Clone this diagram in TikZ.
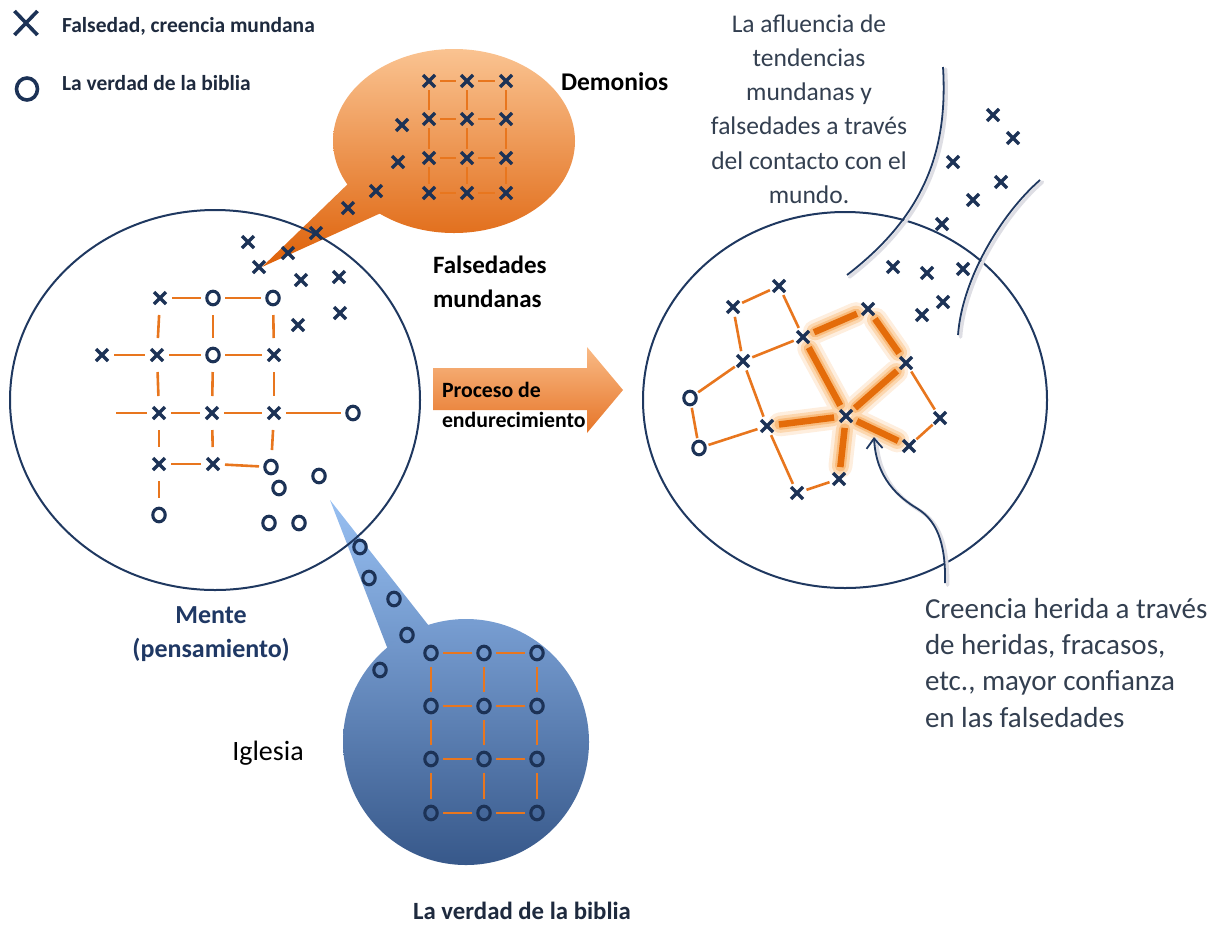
\documentclass[tikz,border=0pt]{standalone}
\usepackage{fontspec}
\setmainfont{Carlito}
\usetikzlibrary{arrows.meta,shapes.geometric}
\pgfdeclarelayer{back}
\pgfdeclarelayer{glow}
\pgfsetlayers{back,glow,main}
\definecolor{navy}{RGB}{31,56,96}
\definecolor{mkc}{RGB}{28,50,86}
\definecolor{orl}{RGB}{232,118,30}
\definecolor{ort}{RGB}{228,108,10}
\definecolor{glowA}{RGB}{254,238,222}
\definecolor{glowB}{RGB}{252,215,175}
\definecolor{glowC}{RGB}{249,188,125}
\definecolor{slate}{RGB}{51,63,80}
\definecolor{legtext}{RGB}{30,42,62}
\definecolor{mentec}{RGB}{31,56,100}
\definecolor{obTop}{RGB}{250,195,145}
\definecolor{obBot}{RGB}{226,112,30}
\definecolor{otA}{RGB}{233,136,63}
\definecolor{otB}{RGB}{222,97,9}
\definecolor{bbTop}{RGB}{120,158,210}
\definecolor{bbBot}{RGB}{55,88,138}
\definecolor{btA}{RGB}{152,192,242}
\definecolor{btB}{RGB}{108,146,198}
\definecolor{arTop}{RGB}{249,186,134}
\definecolor{arBot}{RGB}{230,117,40}
\definecolor{shadowc}{RGB}{222,222,228}
\newcommand\xsym[1]{\draw[xst] ([shift={(-6pt,-6pt)}]#1.center) -- ([shift={(6pt,6pt)}]#1.center) ([shift={(-6pt,6pt)}]#1.center) -- ([shift={(6pt,-6pt)}]#1.center);}
\newcommand\osym[1]{\draw[ost] (#1.center) ellipse [x radius=6.2pt, y radius=6.8pt];}
\tikzset{
 mk/.style={circle, minimum size=22pt, inner sep=0pt, outer sep=0pt},
 xst/.style={draw=mkc, line width=3.3pt},
 ost/.style={draw=mkc, line width=3.1pt},
 ol/.style={draw=orl, line width=2.6pt},
 thk/.style={draw=ort, line width=6.5pt},
 ring/.style={draw=navy, line width=2pt, ellipse, inner sep=0pt},
 crv/.style={draw=navy, line width=1.8pt},
 crvsh/.style={draw=shadowc, line width=3.5pt, line cap=round},
 lab/.style={inner sep=0pt, outer sep=0pt},
}
\begin{document}
\begin{tikzpicture}[x=1pt,y=-1pt]
\useasboundingbox (0,0) rectangle (1222,930);

% ---------- bubbles and arrow (background) ----------
\begin{pgfonlayer}{back}
\shade[top color=otA, bottom color=otB] (262,267) -- (352,180) -- (392,208) -- cycle;
\shade[top color=obTop, bottom color=obBot] (454,141) ellipse [x radius=121pt, y radius=92pt];
\shade[top color=btA, bottom color=btB] (330,500) -- (440,640) -- (392,660) -- cycle;
\shade[top color=bbTop, bottom color=bbBot] (466,742) circle [radius=123pt];
\shade[top color=arTop, bottom color=arBot] (433,368) -- (587,368) -- (587,347) -- (623,390) -- (587,433) -- (587,410) -- (433,410) -- cycle;
\end{pgfonlayer}

% ---------- big circles ----------
\node[ring, minimum width=410pt, minimum height=380pt] (mind) at (215,400) {};
\node[ring, minimum width=404pt, minimum height=376pt] (world) at (845,400) {};

% ---------- world curves ----------
\draw[crvsh, transform canvas={shift={(2.5pt,-2pt)}}] (943,67) .. controls (948,150) and (925,215) .. (847,275);
\draw[crv] (943,67) .. controls (948,150) and (925,215) .. (847,275);
\draw[crvsh, transform canvas={shift={(2.5pt,-2pt)}}] (1040,180) .. controls (1000,215) and (962,280) .. (958,335);
\draw[crv] (1040,180) .. controls (1000,215) and (962,280) .. (958,335);

% ---------- legend ----------
\node[mk] (legx) at (26,23) {};
\node[mk] (lego) at (27,89) {};
\draw[xst, line width=3.6pt] ([shift={(-11.5pt,-12pt)}]legx.center) -- ([shift={(11.5pt,12pt)}]legx.center) ([shift={(-11.5pt,12pt)}]legx.center) -- ([shift={(11.5pt,-12pt)}]legx.center);
\draw[ost, line width=3.6pt] (lego.center) ellipse [x radius=10.5pt, y radius=11pt];

% ---------- marker nodes ----------
\foreach \n/\x/\y in {L11/160/298, L12/213/298, L13/273/298,
  L20/102/355, L21/157/355, L22/213/355, L23/274/355,
  L31/159/413, L32/212/413, L33/274/413, L34/353/413,
  L41/159/464, L42/213/464, L43/271/467, L51/159/515,
  LX1/248/242, LX2/259/267, LX3/288/253, LX4/316/233, LX5/348/208, LX6/376/191,
  LX7/398/162, LX8/402/125, LX9/301/280, LX10/339/277, LX11/298/325, LX12/340/313,
  LO1/279/488, LO2/319/476, LO3/269/523, LO4/299/523,
  BO1/360/547, BO2/369/578, BO3/394/599, BO4/407/635, BO5/380/670,
  RA/733/307, RB/779/286, RC/803/337, RD/743/361, RE/690/398, RF/699/448,
  RG/767/426, RH/846/416, RI/868/309, RJ/906/363, RK/940/418, RL/909/446,
  RM/839/479, RN/797/493,
  TX1/993/115, TX2/1013/138, TX3/953/162, TX4/1001/182, TX5/973/200, TX6/942/224,
  TX7/893/267, TX8/927/273, TX9/963/269, TX10/943/302, TX11/922/315}
  \node[mk] (\n) at (\x,\y) {};
\coordinate (L3s) at (115,413);
\foreach \r/\y in {1/81,2/119,3/158,4/193}
  \foreach \c/\x in {1/429,2/467,3/506}
    \node[mk] (OB\r\c) at (\x,\y) {};
\foreach \r/\y in {1/653,2/706,3/759,4/813}
  \foreach \c/\x in {1/431,2/484,3/537}
    \node[mk] (BB\r\c) at (\x,\y) {};

% ---------- glow (hardened belief) ----------
\begin{pgfonlayer}{glow}
\foreach \a/\b in {RC/RI,RI/RJ,RC/RH,RJ/RH,RG/RH,RH/RM,RH/RL}
  \draw[glowA, line width=24pt, line cap=round, shorten <=2pt, shorten >=2pt] (\a) -- (\b);
\foreach \a/\b in {RC/RI,RI/RJ,RC/RH,RJ/RH,RG/RH,RH/RM,RH/RL}
  \draw[glowB, line width=17pt, line cap=round, shorten <=2pt, shorten >=2pt] (\a) -- (\b);
\foreach \a/\b in {RC/RI,RI/RJ,RC/RH,RJ/RH,RG/RH,RH/RM,RH/RL}
  \draw[glowC, line width=11pt, line cap=round, shorten <=2pt, shorten >=2pt] (\a) -- (\b);
\end{pgfonlayer}

% ---------- orange connectors ----------
\foreach \a/\b in {L11/L12, L12/L13, L20/L21, L21/L22, L22/L23, L3s/L31, L31/L32, L32/L33, L33/L34, L41/L42, L42/L43}
  \draw[ol, shorten <=1pt, shorten >=1pt] (\a) -- (\b);
\foreach \a/\b in {L11/L21, L21/L31, L31/L41, L41/L51, L12/L22, L22/L32, L32/L42, L13/L23, L23/L33, L33/L43}
  \draw[ol, shorten <=6pt, shorten >=6pt] (\a) -- (\b);
\foreach \r in {1,2,3,4} {
  \draw[ol] (OB\r1) -- (OB\r2);
  \draw[ol] (OB\r2) -- (OB\r3);
  \draw[ol, shorten <=1pt, shorten >=1pt] (BB\r1) -- (BB\r2);
  \draw[ol, shorten <=1pt, shorten >=1pt] (BB\r2) -- (BB\r3);
}
\foreach \r/\s in {1/2,2/3,3/4}
  \foreach \c in {1,2,3} {
    \draw[ol, shorten <=-2pt, shorten >=-2pt] (OB\r\c) -- (OB\s\c);
    \draw[ol, shorten <=3pt, shorten >=3pt] (BB\r\c) -- (BB\s\c);
  }
\foreach \a/\b in {RA/RB, RA/RD, RB/RC, RD/RC, RD/RE, RE/RF, RF/RG, RD/RG, RG/RN, RN/RM, RJ/RK, RK/RL}
  \draw[ol, shorten <=-1pt, shorten >=-1pt] (\a) -- (\b);
\foreach \a/\b in {RC/RI,RI/RJ,RC/RH,RJ/RH,RG/RH,RH/RM,RH/RL}
  \draw[thk, shorten <=1pt, shorten >=1pt] (\a) -- (\b);

% ---------- marker symbols ----------
\foreach \n in {L11,L20,L21,L23,L31,L32,L33,L41,L42,
  LX1,LX2,LX3,LX4,LX5,LX6,LX7,LX8,LX9,LX10,LX11,LX12,
  OB11,OB12,OB13,OB21,OB22,OB23,OB31,OB32,OB33,OB41,OB42,OB43,
  RA,RB,RC,RD,RG,RH,RI,RJ,RK,RL,RM,RN,
  TX1,TX2,TX3,TX4,TX5,TX6,TX7,TX8,TX9,TX10,TX11}
  {\xsym{\n}}
\foreach \n in {L12,L13,L22,L34,L43,L51,LO1,LO2,LO3,LO4,BO1,BO2,BO3,BO4,BO5,
  BB11,BB12,BB13,BB21,BB22,BB23,BB31,BB32,BB33,BB41,BB42,BB43,RE,RF}
  {\osym{\n}}

% ---------- pointer arrow ----------
\coordinate (arrS) at (945,583);
\coordinate (arrT) at (874,437);
\draw[crvsh, transform canvas={shift={(2.5pt,-2pt)}}] (arrS) .. controls (946,540) and (935,520) .. (918,509) .. controls (898,497) and (876,478) .. (arrT);
\draw[crv, -{Straight Barb[length=10pt,width=16pt]}] (arrS) .. controls (946,540) and (935,520) .. (918,509) .. controls (898,497) and (876,478) .. (arrT);

% ---------- texts (base anchor = baseline of last line) ----------
\node[lab, anchor=base west, font=\fontsize{21.5}{25}\selectfont\bfseries, text=legtext] (tleg1) at (62,32) {Falsedad, creencia mundana};
\node[lab, anchor=base west, font=\fontsize{21.5}{25}\selectfont\bfseries, text=legtext] (tleg2) at (62,90) {La verdad de la biblia};
\node[lab, anchor=base west, font=\fontsize{25.5}{30}\selectfont\bfseries] (tdem) at (561,90) {Demonios};
\node[lab, anchor=base west, align=left, font=\fontsize{25}{34}\selectfont\bfseries] (tfal) at (433,307) {Falsedades\\mundanas};
\node[lab, anchor=base west, align=left, font=\fontsize{21.8}{30}\selectfont\bfseries] (tproc) at (442,427) {Proceso de\\endurecimiento};
\node[lab, anchor=base, align=center, font=\fontsize{26}{34}\selectfont\bfseries, text=mentec] (tmente) at (211,657) {Mente\\(pensamiento)};
\node[lab, anchor=base, font=\fontsize{28}{34}\selectfont] (tigl) at (268,760) {Iglesia};
\node[lab, anchor=base, font=\fontsize{24.8}{30}\selectfont\bfseries, text=legtext] (tbib) at (522,919) {La verdad de la biblia};
\node[lab, anchor=base, align=center, font=\fontsize{25.5}{34.3}\selectfont, text=slate] (tinf) at (809,203.5) {La afluencia de\\tendencias\\mundanas y\\falsedades a través\\del contacto con el\\mundo.};
\node[lab, anchor=base west, align=left, font=\fontsize{29}{36.3}\selectfont, text=slate] (tcre) at (925,727) {Creencia herida a través\\de heridas, fracasos,\\etc., mayor confianza\\en las falsedades};
\end{tikzpicture}
\end{document}
